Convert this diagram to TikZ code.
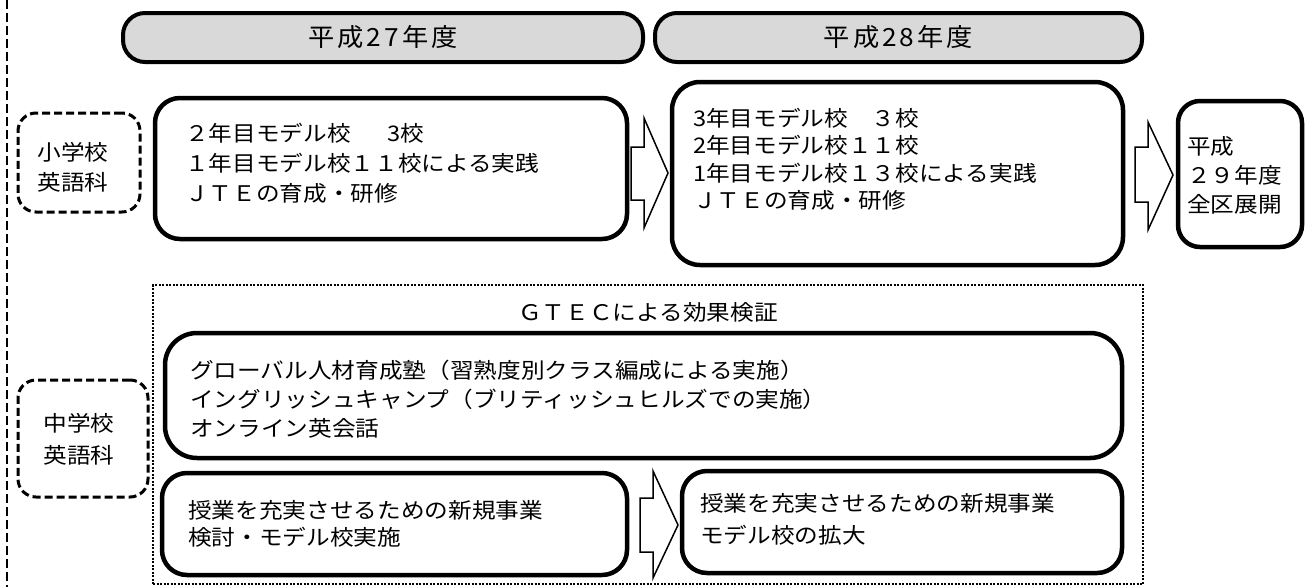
\documentclass[tikz,border=0pt]{standalone}
\usepackage{fontspec}
\newfontfamily\jpb{Noto Sans CJK JP}[FakeStretch=1.1]
\newfontfamily\jph{Noto Sans CJK JP}[FakeStretch=1.05, LetterSpace=12]
\definecolor{hdrgray}{HTML}{D9D9D9}
\begin{document}
\begin{tikzpicture}[x=1pt,y=-1pt,
  hdr/.style={draw, line width=4pt, fill=hdrgray, rounded corners=22pt, inner sep=0,
    font=\jph\fontsize{25}{25}\selectfont},
  bigbox/.style={draw, line width=4.5pt, rounded corners=#1, inner sep=0},
  dashbox/.style={draw, line width=3pt, dash pattern=on 8pt off 4pt, rounded corners=18pt, inner sep=0},
  dotbox/.style={draw, line width=2pt, dash pattern=on 2pt off 1.5pt, inner sep=0},
  txt/.style={inner sep=0, align=left, font=\jpb\fontsize{21.5}{#1}\selectfont},
  ctxt/.style={inner sep=0, align=center, font=\jpb\fontsize{21.5}{#1}\selectfont},
  blockarr/.style={draw, line width=1.5pt, fill=white, line join=miter},
  leftline/.style={line width=2.5pt, dash pattern=on 9pt off 4pt}
]
\useasboundingbox (0,0) rectangle (1306,587);
% left dashed line
\coordinate (ltop) at (7,0);
\coordinate (lbot) at (7,587);
\draw[leftline] (ltop) -- (lbot);
% headers
\node[hdr, minimum width=520pt, minimum height=49pt] (h1) at (383,37.5) {平成27年度};
\node[hdr, minimum width=487pt, minimum height=49pt] (h2) at (898.5,37.5) {平成28年度};
% side labels
\node[dashbox, minimum width=122pt, minimum height=99pt] (sho) at (79,162.5) {};
\node[ctxt=30] (shot) at (73,167) {小学校\\英語科};
\node[dashbox, minimum width=130pt, minimum height=117pt] (chu) at (83,438.5) {};
\node[ctxt=32] (chut) at (79,439) {中学校\\英語科};
% top row boxes
\node[bigbox=25pt, minimum width=472pt, minimum height=141pt] (ba) at (391,168.5) {};
\node[txt=30, anchor=north west] (ta) at (185,123) {２年目モデル校\hspace{37pt}3校\\１年目モデル校１１校による実践\\ＪＴＥの育成・研修};
\node[bigbox=28pt, minimum width=451pt, minimum height=183pt] (bb) at (897.5,173.5) {};
\node[txt=27.3, anchor=north west] (tb) at (693,108) {3年目モデル校　３校\\2年目モデル校１１校\\1年目モデル校１３校による実践\\ＪＴＥの育成・研修};
\node[bigbox=22pt, minimum width=124pt, minimum height=146pt] (bc) at (1240,174) {};
\node[txt=29, anchor=north west] (tc) at (1187,136) {平成\\２９年度\\全区展開};
% block arrows top row
\draw[blockarr] (631,147) -- (644,147) -- (644,118) -- (668,173) -- (644,228) -- (644,200) -- (631,200) -- cycle;
\draw[blockarr] (1135,147) -- (1148,147) -- (1148,122) -- (1173,175) -- (1148,230) -- (1148,202) -- (1135,202) -- cycle;
% lower dotted group
\node[dotbox, minimum width=990pt, minimum height=299pt] (grp) at (648,434.5) {};
\node[ctxt=24] (gtec) at (648,312) {ＧＴＥＣによる効果検証};
\node[bigbox=32pt, minimum width=957pt, minimum height=125pt] (bd) at (643.5,395.5) {};
\node[txt=29, anchor=north west] (td) at (190,360) {グローバル人材育成塾（習熟度別クラス編成による実施）\\イングリッシュキャンプ（ブリティッシュヒルズでの実施）\\オンライン英会話};
\node[bigbox=25pt, minimum width=465pt, minimum height=102pt] (be) at (394.5,524) {};
\node[txt=27, anchor=north west] (te) at (188,500) {授業を充実させるための新規事業\\検討・モデル校実施};
\draw[blockarr] (640,498) -- (653,498) -- (653,471) -- (678,525) -- (653,578) -- (653,552) -- (640,552) -- cycle;
\node[bigbox=25pt, minimum width=440pt, minimum height=102pt] (bf) at (902,522) {};
\node[txt=32, anchor=north west] (tf) at (700,493) {授業を充実させるための新規事業\\モデル校の拡大};
\end{tikzpicture}
\end{document}
